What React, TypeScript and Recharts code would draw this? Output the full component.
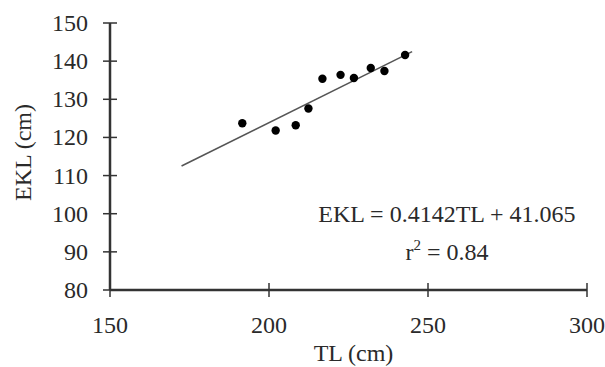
import React from 'react'
import { ScatterChart, Scatter, XAxis, YAxis, Label } from 'recharts'

// values
const tlValues = [191.6, 202.1, 208.4, 212.4, 216.8, 222.5, 226.7, 232.0, 236.3, 242.8]
const eklValues = [123.7, 121.8, 123.2, 127.6, 135.4, 136.4, 135.6, 138.2, 137.4, 141.6]
const trendTL = [172.5, 245]
const trendEKL = [112.5, 142.5]
const xTicks = [150, 200, 250, 300]
const yTicks = [80, 90, 100, 110, 120, 130, 140, 150]
const equation = 'EKL = 0.4142TL + 41.065'

const points = tlValues.map((tl, i) => ({ tl, ekl: eklValues[i] }))
const trend = trendTL.map((tl, i) => ({ tl, ekl: trendEKL[i] }))

const FONT = '"Liberation Serif", "Times New Roman", serif'
const INK = '#2a2a2a'
const AXIS = '#333'
const FRAME = '#8a8a8a'

const YTick = (props: any) => {
  const { x, y, payload } = props
  return (
    <g>
      <line x1={x - 7} x2={x + 7} y1={y} y2={y} stroke={AXIS} strokeWidth={1.5} />
      <text x={x - 22} y={y + 8} textAnchor="end" fontFamily={FONT} fontSize={24} fill={INK}>
        {payload.value}
      </text>
    </g>
  )
}

const XTick = (props: any) => {
  const { x, y, payload } = props
  return (
    <g>
      <line x1={x} x2={x} y1={y - 7} y2={y + 7} stroke={AXIS} strokeWidth={1.5} />
      <text x={x} y={y + 43} textAnchor="middle" fontFamily={FONT} fontSize={24} fill={INK}>
        {payload.value}
      </text>
    </g>
  )
}

const Dot = (props: any) => <circle cx={props.cx} cy={props.cy} r={4.2} fill="#000" />

export default function App() {
  return (
    <div style={{ position: 'absolute', left: 0, top: 0, background: '#fff' }}>
      <ScatterChart width={605} height={367} margin={{ top: 23, right: 18, bottom: 0, left: 0 }}>
        <XAxis
          dataKey="tl"
          type="number"
          domain={[150, 300]}
          ticks={xTicks}
          height={77}
          tickSize={0}
          tickMargin={0}
          tickLine={false}
          tick={<XTick />}
          axisLine={{ stroke: AXIS, strokeWidth: 2.5 }}
        >
          <Label
            content={({ viewBox }: any) => (
              <text
                x={viewBox.x + viewBox.width / 2 + 5}
                y={viewBox.y + 71}
                textAnchor="middle"
                fontFamily={FONT}
                fontSize={24}
                fill={INK}
              >
                TL (cm)
              </text>
            )}
          />
        </XAxis>
        <YAxis
          dataKey="ekl"
          type="number"
          domain={[80, 150]}
          ticks={yTicks}
          width={110}
          tickSize={0}
          tickMargin={0}
          tickLine={false}
          tick={<YTick />}
          axisLine={{ stroke: AXIS, strokeWidth: 2.5 }}
        >
          <Label
            content={({ viewBox }: any) => {
              const cx = 23
              const cy = viewBox.y + viewBox.height / 2 - 4
              return (
                <text
                  x={cx}
                  y={cy}
                  transform={`rotate(-90 ${cx} ${cy})`}
                  textAnchor="middle"
                  dominantBaseline="central"
                  fontFamily={FONT}
                  fontSize={24}
                  fill={INK}
                >
                  EKL (cm)
                </text>
              )
            }}
          />
        </YAxis>
        {/* grey frame on top and right of the plot */}
        <XAxis
          xAxisId="top"
          orientation="top"
          type="number"
          domain={[150, 300]}
          height={0}
          tick={false}
          tickLine={false}
          axisLine={{ stroke: FRAME, strokeWidth: 2 }}
        />
        <YAxis
          yAxisId="right"
          orientation="right"
          type="number"
          domain={[80, 150]}
          width={0}
          tick={false}
          tickLine={false}
          axisLine={{ stroke: FRAME, strokeWidth: 2 }}
        />
        <Scatter
          data={trend}
          line={{ stroke: '#555', strokeWidth: 1.5 }}
          shape={() => <g />}
          isAnimationActive={false}
        />
        <Scatter data={points} shape={<Dot />} isAnimationActive={false} />
        <text x={447} y={222} textAnchor="middle" fontFamily={FONT} fontSize={24} fill={INK}>
          {equation}
        </text>
        <text x={447} y={260} textAnchor="middle" fontFamily={FONT} fontSize={24} fill={INK}>
          r
          <tspan dy={-10} fontSize={15}>2</tspan>
          <tspan dy={10}> = 0.84</tspan>
        </text>
      </ScatterChart>
    </div>
  )
}
